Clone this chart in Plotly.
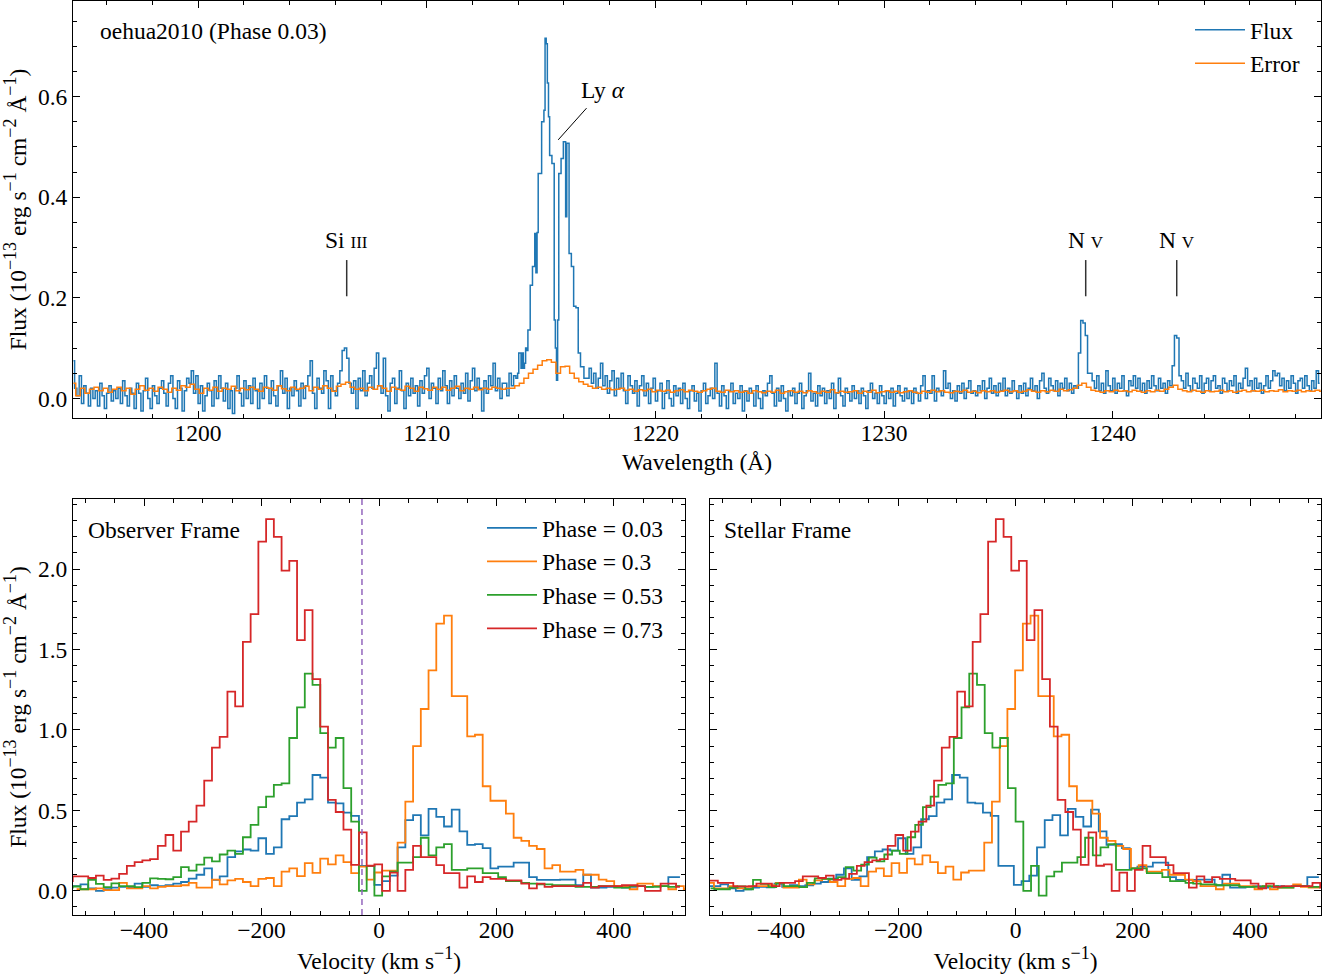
import numpy as np
import plotly.graph_objects as go

# ---------------- top panel: oehua2010 spectrum ----------------
# flux / error in units of 1e-16 erg s-1 cm-2 A-1 (divided by 1000 below)
WAVE_BLUE_START = 1194.55   # 0.1 A bins up to 1213.95
WAVE_CORE_START = 1214.00   # 0.05 A bins across the Ly-alpha core
WAVE_RED_START = 1217.05    # 0.1 A bins up to 1249.05
WAVE_ERR_START = 1194.55    # 0.2 A bins

FLUX_BLUE = [
    75, 20, 5, 45, -10, 25, 10, -15, 20, 0,
    15, -15, 30, 5, -20, 10, 25, -5, 15, 0,
    20, -10, 35, 5, -15, 20, 10, -20, 30, 10,
    -25, 15, 40, 0, -20, 25, 5, -10, 20, 35,
    10, -15, 30, 45, 0, -20, 35, 20, -25, 15,
    40, 30, 55, 10, 45, -10, 25, -25, 5, 30,
    15, -15, 35, 0, 45, 20, -5, 30, -20, 15,
    -30, 20, 45, 10, -15, 35, 0, 25, -10, 40,
    15, -20, 30, 0, 45, 20, -10, 35, 5, -15,
    25, 55, 10, 40, -20, 20, 5, 35, 15, -15,
    30, 0, 25, 45, 75, 10, -20, 40, 20, 10,
    55, 35, -20, 45, 15, 5, 30, 55, 95, 100,
    80, 30, 10, 35, -20, 40, 15, 55, 5, 30,
    45, 20, 60, 90, 25, 10, 80, 5, -25, 30,
    40, -10, 20, 55, 15, -20, 30, 5, 40, 10,
    25, -15, 35, 10, 45, 60, 0, 30, 20, -10,
    40, 15, 55, 25, -10, 35, 5, 45, 20, 0,
    30, 10, 50, -5, 35, 60, 15, 40, 20, -25,
    35, 10, 45, 25, 70, 15, 40, 0, 30,
    30, 5, 50, 25, 45, 40,
]
FLUX_CORE = [
    50, 90, 90, 60, 90, 60, 70, 100, 95, 136,
    136, 225, 225, 262, 262, 328, 250, 330, 447, 447,
    447, 550, 550, 573, 716, 705, 627, 560, 483, 483,
    467, 467, 156, 100, 36, 156, 447, 447, 477, 477,
    510, 510, 361, 507, 507, 288, 288, 262, 262, 183,
    183, 180, 180, 90, 90, 63, 63, 63, 40, 40,
    40,
]
FLUX_RED = [
    40, 60, 30, 50, 20, 40, 70, 25, 45, 10,
    35, 55, 5, 40, 20, 50, 15, -10, 45, 25,
    10, 35, -15, 25, 45, 5, 30, -10, 20, 40,
    -5, 15, 30, -20, 10, 35, 0, -15, 25, 5,
    20, -10, 30, 0, -20, 15, 25, -5, 10, -25,
    15, 30, -10, 5, 20, 0, 70, 10, -15, 25,
    5, -20, 15, 30, -10, 10, 0, 25, -25, 15,
    -5, 20, 10, -15, 25, 0, -20, 15, 5, 30,
    45, 10, -15, 20, -5, 25, 0, -25, 15, 5,
    20, -10, 10, 30, -20, 5, 15, 50, -5, 10,
    -15, 25, 5, 20, -10, 15, 0, 30, -20, 10,
    40, 5, -15, 20, 10, -5, 25, 0, 15, -10,
    20, 5, -20, 15, 30, 0, 10, -10, 25, 5,
    -10, 15, 0, 20, -15, 10, 25, 5, -5, 20,
    0, 15, -10, 20, 10, -5, 25, 45, 0, 15,
    10, 45, -5, 20, 15, 5, 55, 20, 30, 0,
    15, -5, 25, 10, 30, 0, 20, 35, 10, 15,
    5, 25, 15, 35, 0, 20, 40, 10, 25, 5,
    30, 15, 40, 5, 20, 10, 35, 15, 0, 25,
    10, 30, 5, 20, 40, 15, 25, 0, 35, 50,
    20, 10, 40, 25, 15, 35, 5, 30, 20, 40,
    15, 30, 10, 25, 20, 90, 155, 150, 125, 50,
    50, 35, 20, 45, 15, 30, 10, 55, 25, 15,
    40, 10, 30, 20, 45, 15, 5, 35, 25, 45,
    20, 40, 15, 30, 10, 35, 20, 45, 25, 15,
    40, 20, 30, 10, 35, 25, 65, 125, 120, 45,
    35, 20, 50, 25, 15, 40, 30, 20, 45, 10,
    30, 40, 15, 35, 45, 20, 25, 10, 40, 30,
    15, 35, 25, 45, 10, 30, 20, 40, 60, 25,
    35, 15, 40, 20, 30, 10, 25, 45, 20, 35,
    55, 45, 50, 25, 40, 15, 35, 20, 45, 30,
    10, 35, 40, 20, 45, 25, 15, 35, 20, 55,
    30,
]
ERROR = [
    30, 5, 20, 10, 18, 22, 15, 20, 12, 18,
    22, 15, 20, 8, 18, 25, 16, 20, 14, 22,
    18, 12, 20, 16, 25, 22, 28, 18, 10, 20,
    16, 22, 14, 20, 18, 24, 15, 20, 17, 22,
    18, 14, 22, 20, 16, 25, 19, 15, 22, 18,
    20, 24, 15, 22, 18, 25, 20, 14, 24, 28,
    32, 22, 18, 20, 15, 22, 18, 25, 20, 14,
    22, 18, 16, 24, 20, 14, 22, 19, 16, 22,
    18, 22, 16, 20, 24, 15, 20, 18, 22, 17,
    20, 18, 22, 20, 18, 20, 20, 25, 30, 40,
    50, 58, 66, 75, 77, 72, 50, 63, 64, 50,
    40, 33, 28, 24, 20, 22, 18, 20, 17, 18,
    20, 16, 18, 14, 17, 15, 18, 13, 16, 14,
    16, 12, 15, 17, 13, 16, 14, 12, 15, 18,
    20, 14, 12, 16, 13, 15, 12, 14, 10, 15,
    13, 11, 14, 12, 16, 10, 13, 15, 12, 14,
    11, 15, 13, 10, 14, 12, 17, 11, 14, 12,
    13, 15, 10, 14, 12, 16, 11, 13, 15, 12,
    14, 11, 13, 15, 12, 10, 14, 12, 16, 13,
    15, 12, 11, 14, 13, 16, 12, 14, 11, 15,
    13, 15, 12, 14, 16, 13, 15, 12, 14, 17,
    14, 12, 15, 13, 16, 14, 18, 15, 17, 20,
    26, 30, 22, 16, 14, 12, 15, 13, 16, 14,
    15, 13, 16, 14, 12, 15, 13, 16, 14, 18,
    22, 26, 18, 15, 13, 16, 14, 12, 15, 13,
    14, 16, 13, 15, 12, 14, 16, 13, 15, 14,
    16, 13, 15, 14, 17, 13, 15, 14, 16, 13,
    15, 14, 16, 14,
]

LINE_LABELS = ["Si <span style='font-size:17px'>III</span>",
               "N <span style='font-size:17px'>V</span>",
               "N <span style='font-size:17px'>V</span>"]
LINE_WAVES = [1206.50, 1238.82, 1242.80]

# ---------------- bottom panels: Ly-alpha velocity profiles ----------------
V_ZERO = -106.6   # centre of velocity bin 0, km/s (observer frame)
V_STEP = 13.17
PHASES = ["0.03", "0.3", "0.53", "0.73"]
FIRST_BIN = [-32, -31, -35, -44]
STELLAR_SHIFT = [5.0, -85.0, 47.5, 158.7]   # observer -> stellar frame, km/s
SYSTEMIC_V = -29.0

PROFILE_003 = [
    0.03, 0.03, 0.04, 0.015, 0.0, 0.01, 0.02, 0.025, 0.022, 0.045,
    0.025, 0.035, 0.03, 0.035, 0.045, 0.055, 0.076, 0.1, 0.14, 0.068,
    0.09, 0.21, 0.245, 0.257, 0.25, 0.327, 0.23, 0.27, 0.445, 0.465,
    0.548, 0.568, 0.72, 0.704, 0.548, 0.544, 0.486, 0.466, 0.155, 0.155,
    0.037, 0.06, 0.095, 0.27, 0.44, 0.47, 0.345, 0.51, 0.46, 0.4,
    0.505, 0.37, 0.286, 0.29, 0.265, 0.14, 0.15, 0.15, 0.175, 0.175,
    0.085, 0.068, 0.068, 0.068, 0.07, 0.07, 0.035, 0.1, 0.02, 0.02,
    0.025, 0.03, 0.02, 0.025, 0.03, 0.025, 0.03, 0.03, 0.085, 0.085,
]
PROFILE_030 = [
    0.01, 0.01, 0.01, 0.015, 0.005, 0.005, 0.05, 0.015, 0.015, 0.03,
    0.015, 0.025, 0.03, 0.03, 0.035, 0.05, 0.02, 0.02, 0.07, 0.04,
    0.065, 0.075, 0.055, 0.03, 0.075, 0.08, 0.03, 0.12, 0.14, 0.092,
    0.172, 0.112, 0.2, 0.165, 0.22, 0.178, 0.11, 0.15, 0.07, 0.114,
    0.126, 0.126, 0.3, 0.555, 0.9, 1.13, 1.37, 1.66, 1.71, 1.21,
    1.21, 0.96, 0.97, 0.65, 0.56, 0.56, 0.48, 0.33, 0.31, 0.28,
    0.26, 0.14, 0.16, 0.12, 0.12, 0.13, 0.1, 0.1, 0.07, 0.06,
    0.03, 0.03, 0.01, 0.045, 0.045, 0.03, 0.03, 0.01, 0.03, 0.01,
    0.02, 0.02, 0.04, 0.025, 0.02, 0.02,
]
PROFILE_053 = [
    0.015, 0.01, 0.01, 0.02, 0.027, 0.01, 0.068, 0.043, 0.023, 0.047,
    0.03, 0.03, 0.023, 0.05, 0.077, 0.075, 0.072, 0.085, 0.147, 0.126,
    0.163, 0.207, 0.183, 0.226, 0.25, 0.23, 0.333, 0.41, 0.52, 0.585,
    0.658, 0.668, 0.95, 1.14, 1.35, 1.28, 0.98, 0.89, 0.95, 0.638,
    0.43, 0.0, 0.155, -0.03, 0.09, 0.12, 0.175, 0.175, 0.21, 0.33,
    0.22, 0.27, 0.29, 0.13, 0.13, 0.14, 0.14, 0.11, 0.11, 0.085,
    0.06, 0.06, 0.05, 0.045, 0.04, 0.04, 0.035, 0.035, 0.035, 0.025,
    0.025, 0.025, 0.03, 0.03, 0.02, 0.02, 0.03, 0.03, 0.025, 0.025,
    0.03, 0.025, 0.03,
]
PROFILE_073 = [
    0.063, 0.063, 0.05, 0.05, 0.028, 0.028, 0.03, 0.045, 0.045, 0.03,
    0.05, 0.05, 0.06, 0.09, 0.09, 0.08, 0.095, 0.068, 0.076, 0.105,
    0.155, 0.178, 0.19, 0.197, 0.28, 0.347, 0.25, 0.368, 0.43, 0.53,
    0.685, 0.89, 0.957, 1.238, 1.146, 1.547, 1.72, 2.17, 2.31, 2.2,
    1.99, 2.05, 1.558, 1.745, 1.316, 1.02, 0.565, 0.49, 0.38, 0.162,
    0.363, 0.156, 0.165, 0.0, 0.113, 0.0, 0.13, 0.28, 0.21, 0.21,
    0.16, 0.11, 0.11, 0.02, 0.09, 0.055, 0.085, 0.075, 0.075, 0.065,
    0.065, 0.045, 0.015, 0.045, 0.025, 0.03, 0.03, 0.03, 0.03, 0.05,
    0.02, 0.03, 0.03, 0.03, 0.035, 0.035, 0.03, 0.0, 0.0, 0.045,
    0.045, 0.025,
]
PROFILES = [PROFILE_003, PROFILE_030, PROFILE_053, PROFILE_073]

COLORS = ["#1f77b4", "#ff7f0e", "#2ca02c", "#d62728"]
FONT = "Liberation Serif"
FS = 23.5
W, H = 1330, 976


def sup(s):
    return f"<sup><span style='font-size:18px'>{s}</span></sup>"


FLUX_LABEL = (f"Flux (10{sup(chr(0x2212) + '13')} erg s{sup(chr(0x2212) + '1')} "
              f"cm{sup(chr(0x2212) + '2')} \u00c5{sup(chr(0x2212) + '1')})")
VEL_LABEL = f"Velocity (km s{sup(chr(0x2212) + '1')})"


def px_x(p):
    return p / W


def px_y(p):
    return 1 - p / H


def tfont(size=FS):
    return dict(family=FONT, size=size, color="black")


def frame(**kw):
    ax = dict(showline=True, linecolor="black", linewidth=1, mirror="allticks",
              ticks="inside", ticklen=7, tickwidth=1, tickcolor="black",
              showgrid=False, zeroline=False, automargin=False,
              tickfont=tfont())
    ax.update(kw)
    return ax


def minor(step):
    return dict(ticks="inside", ticklen=4, tickwidth=1, tickcolor="black",
                dtick=step, showgrid=False)


fig = go.Figure()

# top spectrum
wave = np.concatenate([
    WAVE_BLUE_START + 0.1 * np.arange(len(FLUX_BLUE)),
    WAVE_CORE_START + 0.05 * np.arange(len(FLUX_CORE)),
    WAVE_RED_START + 0.1 * np.arange(len(FLUX_RED)),
])
flux = np.array(FLUX_BLUE + FLUX_CORE + FLUX_RED) / 1000
wave_err = WAVE_ERR_START + 0.2 * np.arange(len(ERROR))
err = np.array(ERROR) / 1000

fig.add_trace(go.Scatter(x=wave, y=flux, name="Flux", mode="lines",
                         line=dict(color=COLORS[0], width=1.5, shape="hvh"),
                         xaxis="x", yaxis="y", legend="legend"))
fig.add_trace(go.Scatter(x=wave_err, y=err, name="Error", mode="lines",
                         line=dict(color=COLORS[1], width=1.5, shape="hvh"),
                         xaxis="x", yaxis="y", legend="legend"))

# velocity profiles, observer frame (left) and stellar frame (right)
for phase, first, shift, prof, col in zip(PHASES, FIRST_BIN, STELLAR_SHIFT,
                                          PROFILES, COLORS):
    v = V_ZERO + V_STEP * (first + np.arange(len(prof)))
    fig.add_trace(go.Scatter(x=v, y=prof, name=f"Phase = {phase}", mode="lines",
                             line=dict(color=col, width=1.8, shape="hvh"),
                             xaxis="x2", yaxis="y2", legend="legend2"))
    fig.add_trace(go.Scatter(x=v + shift, y=prof, name=f"Phase = {phase}",
                             mode="lines", showlegend=False,
                             line=dict(color=col, width=1.8, shape="hvh"),
                             xaxis="x3", yaxis="y3"))

fig.update_layout(
    width=W, height=H, autosize=False,
    margin=dict(l=0, r=0, t=0, b=0),
    paper_bgcolor="white", plot_bgcolor="white",
    font=tfont(),
    xaxis=frame(domain=[px_x(73), px_x(1321)], anchor="y",
                range=[1194.53, 1249.11], tick0=1200, dtick=10, minor=minor(2),
                ticklabelstandoff=-6,
                title=dict(text="Wavelength (\u00c5)", font=tfont(), standoff=8)),
    yaxis=frame(domain=[px_y(418), px_y(1)], anchor="x",
                range=[-0.039, 0.79], tick0=0, dtick=0.2, tickformat=".1f",
                minor=minor(0.05),
                title=dict(text=FLUX_LABEL, font=tfont(), standoff=6)),
    xaxis2=frame(domain=[px_x(73), px_x(685)], anchor="y2",
                 range=[-521, 521], tick0=0, dtick=200, minor=minor(50),
                 ticklabelstandoff=-6,
                 title=dict(text=VEL_LABEL, font=tfont(), standoff=5)),
    yaxis2=frame(domain=[px_y(915), px_y(499)], anchor="x2",
                 range=[-0.15, 2.435], tick0=0, dtick=0.5, tickformat=".1f",
                 minor=minor(0.1),
                 title=dict(text=FLUX_LABEL, font=tfont(), standoff=6)),
    xaxis3=frame(domain=[px_x(710), px_x(1321)], anchor="y3",
                 range=[-521, 521], tick0=0, dtick=200, minor=minor(50),
                 ticklabelstandoff=-6,
                 title=dict(text=VEL_LABEL, font=tfont(), standoff=5)),
    yaxis3=frame(domain=[px_y(915), px_y(499)], anchor="x3",
                 range=[-0.15, 2.435], tick0=0, dtick=0.5, minor=minor(0.1),
                 showticklabels=False),
    legend=dict(x=px_x(1190), y=px_y(8), xanchor="left", yanchor="top",
                bgcolor="rgba(0,0,0,0)", font=tfont(),
                itemwidth=50, tracegroupgap=0),
    legend2=dict(x=px_x(482), y=px_y(506), xanchor="left", yanchor="top",
                 bgcolor="rgba(0,0,0,0)", font=tfont(),
                 itemwidth=50, tracegroupgap=0),
    showlegend=True,
)

annotations = [
    dict(text="oehua2010 (Phase 0.03)", x=px_x(98), y=px_y(31), xref="paper",
         yref="paper", xanchor="left", yanchor="middle", showarrow=False,
         font=tfont()),
    dict(text="Observer Frame", x=px_x(86), y=px_y(530), xref="paper",
         yref="paper", xanchor="left", yanchor="middle", showarrow=False,
         font=tfont()),
    dict(text="Stellar Frame", x=px_x(722), y=px_y(530), xref="paper",
         yref="paper", xanchor="left", yanchor="middle", showarrow=False,
         font=tfont()),
    dict(text="Ly <i>\u03b1</i>", x=1217.70, y=0.614, xref="x", yref="y",
         xanchor="center", yanchor="middle", showarrow=False, font=tfont()),
]
for lab, wl in zip(LINE_LABELS, LINE_WAVES):
    annotations.append(dict(text=lab, x=wl, y=0.314, xref="x", yref="y",
                            xanchor="center", yanchor="middle",
                            showarrow=False, font=tfont()))
    fig.add_shape(type="line", xref="x", yref="y", x0=wl, x1=wl, y0=0.203,
                  y1=0.275, line=dict(color="#333333", width=1.5))

fig.add_shape(type="line", xref="x", yref="y", x0=1215.75, y0=0.514,
              x1=1216.99, y1=0.577, line=dict(color="black", width=1))
fig.add_shape(type="line", xref="x2", yref="y2 domain", x0=SYSTEMIC_V,
              x1=SYSTEMIC_V, y0=0, y1=1,
              line=dict(color="#9467bd", width=1.5, dash="6px,4px"))
fig.update_layout(annotations=annotations)

fig.write_html("out.html",
               config={"displayModeBar": False},
               post_script="document.body.style.margin='0';"
                           "document.body.style.overflow='hidden';")
